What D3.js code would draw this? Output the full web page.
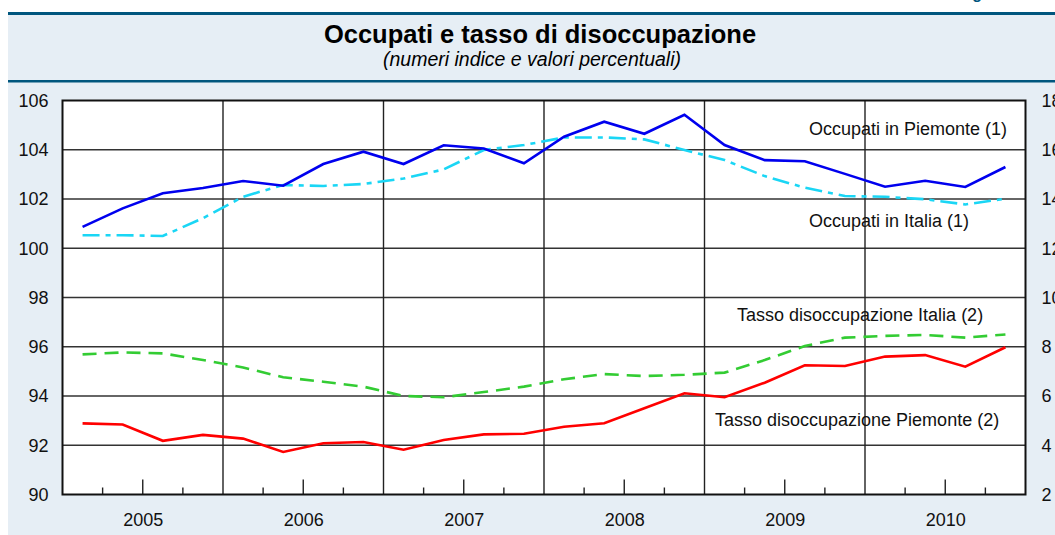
<!DOCTYPE html>
<html lang="it">
<head>
<meta charset="UTF-8">
<title>Occupati e tasso di disoccupazione</title>
<script src="https://cdn.jsdelivr.net/npm/d3@7"></script>
<style>
  body { margin: 0; background: #fff; }
  svg { display: block; font-family: "Liberation Sans", Arial, sans-serif; }
</style>
</head>
<body>
<svg id="chart" width="1055" height="535"></svg>
<script>
// trimestri 2005-2010
var quarters = ["2005-1","2005-2","2005-3","2005-4","2006-1","2006-2","2006-3","2006-4",
  "2007-1","2007-2","2007-3","2007-4","2008-1","2008-2","2008-3","2008-4",
  "2009-1","2009-2","2009-3","2009-4","2010-1","2010-2","2010-3","2010-4"];
var years = [2005, 2006, 2007, 2008, 2009, 2010];

// numeri indice (scala sinistra)
var occPiemonte = [100.87,101.62,102.23,102.45,102.73,102.54,103.42,103.92,
  103.42,104.18,104.05,103.45,104.53,105.14,104.65,105.42,
  104.19,103.58,103.53,103.02,102.50,102.74,102.49,103.30];
var occItalia = [100.53,100.53,100.50,101.22,102.09,102.57,102.53,102.61,
  102.83,103.20,103.99,104.19,104.50,104.50,104.42,103.99,
  103.58,102.93,102.46,102.12,102.09,101.99,101.78,102.01];

// valori percentuali (scala destra)
var disItalia = [7.69,7.77,7.73,7.46,7.16,6.76,6.58,6.38,
  6.00,5.95,6.16,6.38,6.68,6.89,6.81,6.86,
  6.95,7.46,8.03,8.37,8.44,8.48,8.37,8.50];
var disPiemonte = [4.89,4.84,4.18,4.42,4.27,3.73,4.08,4.13,
  3.82,4.21,4.44,4.47,4.75,4.89,5.50,6.11,
  5.95,6.54,7.25,7.22,7.60,7.66,7.19,7.98];

var leftTicks = [90, 92, 94, 96, 98, 100, 102, 104, 106];
var rightTicks = [2, 4, 6, 8, 10, 12, 14, 16, 18];

var svg = d3.select("#chart");

var pLeft = 62.5, pRight = 1025.5, pTop = 100.5, pBottom = 494.5;

// sfondo e barre
svg.append("rect").attr("x", 8).attr("y", 12).attr("width", 1047).attr("height", 523)
  .attr("fill", "#e6eef5");
svg.append("rect").attr("x", 8).attr("y", 12).attr("width", 1047).attr("height", 3)
  .attr("fill", "#00567e");
svg.append("rect").attr("x", 8).attr("y", 80).attr("width", 1047).attr("height", 2.5)
  .attr("fill", "#00567e");
svg.append("text").attr("x", 958).attr("y", -1).attr("fill", "#00567e")
  .attr("font-size", 16).attr("font-weight", "bold").text("Figura");

svg.append("text").attr("x", 540).attr("y", 43).attr("text-anchor", "middle")
  .attr("font-size", 25.5).attr("font-weight", "bold").text("Occupati e tasso di disoccupazione");
svg.append("text").attr("x", 532).attr("y", 66).attr("text-anchor", "middle")
  .attr("font-size", 19.5).attr("font-style", "italic").text("(numeri indice e valori percentuali)");

var x = d3.scaleLinear().domain([2005, 2011]).range([pLeft, pRight]);
var yL = d3.scaleLinear().domain([90, 106]).range([pBottom, pTop]);
var yR = d3.scaleLinear().domain([2, 18]).range([pBottom, pTop]);

function qx(q) {
  var p = q.split("-");
  return x(+p[0] + (+p[1] - 0.5) / 4);
}

svg.append("rect").attr("x", pLeft).attr("y", pTop)
  .attr("width", pRight - pLeft).attr("height", pBottom - pTop).attr("fill", "#fff");

// griglia
svg.append("g").selectAll("line").data(leftTicks.slice(1, -1)).enter().append("line")
  .attr("x1", pLeft).attr("x2", pRight)
  .attr("y1", d => yL(d)).attr("y2", d => yL(d))
  .attr("stroke", "#333").attr("stroke-width", 1.6);
svg.append("g").selectAll("line").data(years.slice(1)).enter().append("line")
  .attr("x1", d => x(d)).attr("x2", d => x(d))
  .attr("y1", pTop).attr("y2", pBottom)
  .attr("stroke", "#222").attr("stroke-width", 1.4);

// tacche trimestrali
var ticks = [];
years.forEach(function (yr) { ticks.push([yr + 0.25, 7], [yr + 0.5, 15], [yr + 0.75, 7]); });
svg.append("g").selectAll("line").data(ticks).enter().append("line")
  .attr("x1", d => x(d[0])).attr("x2", d => x(d[0]))
  .attr("y1", pBottom).attr("y2", d => pBottom - d[1])
  .attr("stroke", "#222").attr("stroke-width", 1.4);

svg.append("rect").attr("x", pLeft).attr("y", pTop)
  .attr("width", pRight - pLeft).attr("height", pBottom - pTop)
  .attr("fill", "none").attr("stroke", "#111").attr("stroke-width", 2);

// assi
var axL = svg.append("g").attr("transform", "translate(" + pLeft + ",0)")
  .call(d3.axisLeft(yL).tickValues(leftTicks).tickSize(0).tickPadding(14));
var axR = svg.append("g").attr("transform", "translate(" + pRight + ",0)")
  .call(d3.axisRight(yR).tickValues(rightTicks).tickSize(0).tickPadding(16));
var axX = svg.append("g").attr("transform", "translate(0," + pBottom + ")")
  .call(d3.axisBottom(x).tickValues(years.map(d => d + 0.5)).tickFormat(d => Math.floor(d))
    .tickSize(0).tickPadding(19));
[axL, axR, axX].forEach(function (a) {
  a.select(".domain").remove();
  a.selectAll("text").attr("font-size", 18).attr("fill", "#111")
    .attr("font-family", "'Liberation Sans', Arial, sans-serif");
});

// serie
var lineL = d3.line().x((d, i) => qx(quarters[i])).y(d => yL(d));
var lineR = d3.line().x((d, i) => qx(quarters[i])).y(d => yR(d));

svg.append("path").attr("d", lineR(disItalia)).attr("fill", "none")
  .attr("stroke", "#33cc33").attr("stroke-width", 2.6).attr("stroke-dasharray", "14,8");
svg.append("path").attr("d", lineR(disPiemonte)).attr("fill", "none")
  .attr("stroke", "#ff0000").attr("stroke-width", 2.6);
svg.append("path").attr("d", lineL(occItalia)).attr("fill", "none")
  .attr("stroke", "#1ad6f5").attr("stroke-width", 2.6).attr("stroke-dasharray", "17,6,5,6");
svg.append("path").attr("d", lineL(occPiemonte)).attr("fill", "none")
  .attr("stroke", "#0000ee").attr("stroke-width", 2.6);

// etichette
var labels = [
  ["Occupati in Piemonte (1)", 809, 135],
  ["Occupati in Italia (1)", 809, 227],
  ["Tasso disoccupazione Italia (2)", 737, 321],
  ["Tasso disoccupazione Piemonte (2)", 715, 426]
];
svg.append("g").selectAll("text").data(labels).enter().append("text")
  .attr("x", d => d[1]).attr("y", d => d[2])
  .attr("font-size", 18).attr("fill", "#111").text(d => d[0]);
</script>
</body>
</html>
